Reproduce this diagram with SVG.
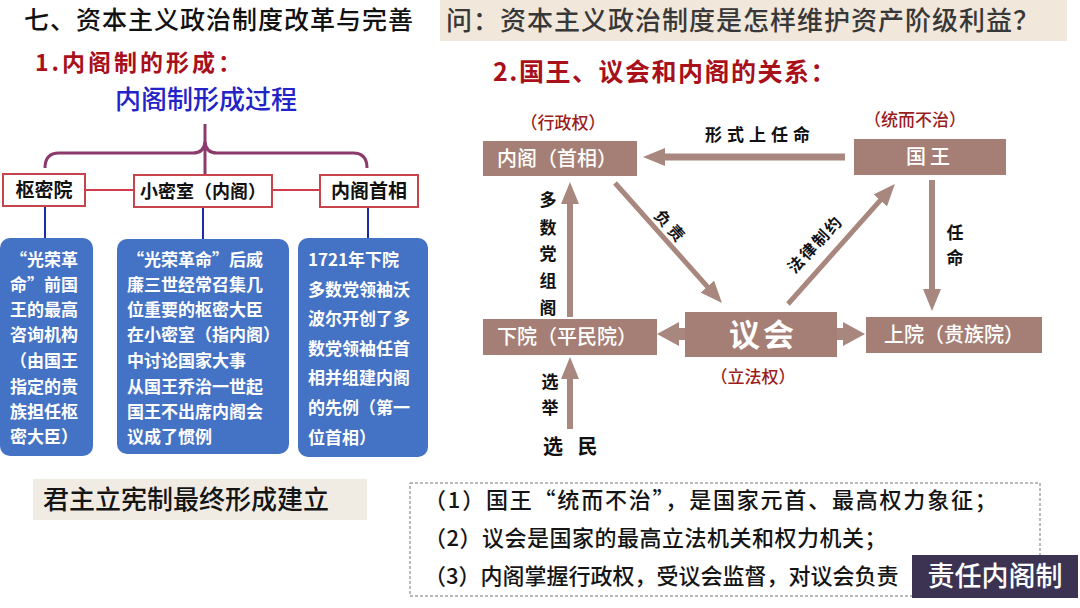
<svg xmlns="http://www.w3.org/2000/svg" width="1080" height="608" viewBox="0 0 1080 608">
<style>
text{font-family:"Noto Sans CJK SC","Noto Sans",sans-serif}
.h{font-size:25px;font-weight:500;fill:#111}
.red{fill:#a8101a;font-weight:700}
.tb{fill:#fff;stroke:#c8444c;stroke-width:2}
.tl{font-size:19px;font-weight:700;fill:#111;text-anchor:middle}
.bb{fill:#4472c4}
.bt{font-size:17px;font-weight:700;fill:#fff}
.br{fill:#a57f75}
.bl{font-size:20px;font-weight:500;fill:#fff;text-anchor:middle}
.pw{font-size:17px;fill:#9b1c1c;font-weight:500;text-anchor:middle}
.lb{font-size:17px;font-weight:700;fill:#111;text-anchor:middle}
.ar{stroke:#a8877e;fill:none}
.nt{font-size:22px;font-weight:500;fill:#151515}
</style>
<defs>
<marker id="ah" markerUnits="userSpaceOnUse" markerWidth="22" markerHeight="18" viewBox="0 0 22 18" refX="2" refY="9" orient="auto"><path d="M0,0 L22,9 L0,18 z" fill="#a8877e"/></marker>
<marker id="ahw" markerUnits="userSpaceOnUse" markerWidth="22" markerHeight="24" viewBox="0 0 22 24" refX="2" refY="12" orient="auto"><path d="M0,0 L22,12 L0,24 z" fill="#a8877e"/></marker>
</defs>
<rect width="1080" height="608" fill="#fff"/>

<g id="titles">
<text class="h" x="24" y="29" style="letter-spacing:1px">七、资本主义政治制度改革与完善</text>
<rect x="440" y="0" width="627" height="41" fill="#f1e7da"/>
<text x="446" y="30" style="font-size:26px;font-weight:500;fill:#383838;letter-spacing:1px">问：资本主义政治制度是怎样维护资产阶级利益？</text>
<text class="red" x="35" y="71" style="font-size:23px;letter-spacing:3px">1.内阁制的形成：</text>
<text x="115" y="109" style="font-size:26px;font-weight:500;fill:#2323c8">内阁制形成过程</text>
<text class="red" x="493" y="81" style="font-size:25px;letter-spacing:1.5px">2.国王、议会和内阁的关系：</text>
</g>

<g id="tree-connectors" fill="none">
<path d="M205,124 L205,175" stroke="#8c3a6c" stroke-width="3"/>
<path d="M45,168 Q45,153 59,153 L193,153 Q204,153 205,142 Q206,153 217,153 L353,153 Q367,153 367,168" stroke="#8c3a6c" stroke-width="3"/>
<path d="M85,190 H134 M272,190 H320" stroke="#d03c4c" stroke-width="2"/>
<path d="M45,206 V238 M203,207 V239 M368,207 V238" stroke="#1a2aa8" stroke-width="2"/>
</g>

<g id="n-shumiyuan"><rect class="tb" x="3" y="174" width="82" height="32"/><text class="tl" x="44" y="197">枢密院</text></g>
<g id="n-xiaomishi"><rect class="tb" x="134" y="175" width="138" height="32"/><text class="tl" x="203" y="198" style="font-size:18px">小密室（内阁）</text></g>
<g id="n-neigeshouxiang"><rect class="tb" x="320" y="175" width="98" height="32"/><text class="tl" x="369" y="198">内阁首相</text></g>

<g id="d-shumiyuan"><rect class="bb" x="0" y="238" width="93" height="218" rx="10"/>
<text class="bt"><tspan x="10" y="266">“光荣革</tspan><tspan x="10" y="291">命”前国</tspan><tspan x="10" y="316">王的最高</tspan><tspan x="10" y="341">咨询机构</tspan><tspan x="10" y="367">（由国王</tspan><tspan x="10" y="393">指定的贵</tspan><tspan x="10" y="418">族担任枢</tspan><tspan x="10" y="443">密大臣）</tspan></text></g>
<g id="d-xiaomishi"><rect class="bb" x="117" y="239" width="172" height="215" rx="10"/>
<text class="bt"><tspan x="127" y="266">“光荣革命”后威</tspan><tspan x="127" y="291">廉三世经常召集几</tspan><tspan x="127" y="316">位重要的枢密大臣</tspan><tspan x="127" y="341">在小密室（指内阁）</tspan><tspan x="127" y="367">中讨论国家大事</tspan><tspan x="127" y="393">从国王乔治一世起</tspan><tspan x="127" y="418">国王不出席内阁会</tspan><tspan x="127" y="443">议成了惯例</tspan></text></g>
<g id="d-shouxiang"><rect class="bb" x="298" y="238" width="130" height="219" rx="10"/>
<text class="bt"><tspan x="308" y="266">1721年下院</tspan><tspan x="308" y="296">多数党领袖沃</tspan><tspan x="308" y="325">波尔开创了多</tspan><tspan x="308" y="355">数党领袖任首</tspan><tspan x="308" y="384">相并组建内阁</tspan><tspan x="308" y="414">的先例（第一</tspan><tspan x="308" y="444">位首相）</tspan></text></g>

<g id="n-junzhu"><rect x="33" y="479" width="334" height="41" fill="#f0ece4"/><text x="43" y="509" style="font-size:26px;font-weight:500;fill:#151515">君主立宪制最终形成建立</text></g>

<g id="connectors" class="ar">
<line x1="845" y1="157" x2="663" y2="157" stroke-width="7" marker-end="url(#ah)"/>
<line x1="570" y1="317" x2="570" y2="202" stroke-width="6" marker-end="url(#ah)"/>
<line x1="615" y1="183" x2="708.7" y2="288.1" stroke-width="5" marker-end="url(#ah)"/>
<line x1="788" y1="304" x2="881.6" y2="198.9" stroke-width="5" marker-end="url(#ah)"/>
<line x1="932" y1="180" x2="932" y2="291" stroke-width="6" marker-end="url(#ah)"/>
<line x1="685" y1="334" x2="677" y2="334" stroke-width="12" marker-end="url(#ahw)"/>
<line x1="837" y1="334" x2="845" y2="334" stroke-width="12" marker-end="url(#ahw)"/>
<line x1="570" y1="429" x2="570" y2="377" stroke-width="6" marker-end="url(#ah)"/>
</g>

<g id="n-neige"><rect class="br" x="483" y="141" width="154" height="35"/><text class="bl" x="557" y="166">内阁（首相）</text><text class="pw" x="563" y="129">（行政权）</text></g>
<g id="n-guowang"><rect class="br" x="854" y="139" width="152" height="36"/><text class="bl" x="930" y="164" style="letter-spacing:4px">国王</text><text class="pw" x="915" y="126">（统而不治）</text></g>
<g id="n-xiayuan"><rect class="br" x="483" y="319" width="174" height="36"/><text class="bl" x="567" y="344">下院（平民院）</text></g>
<g id="n-yihui"><rect class="br" x="685" y="312" width="152" height="45"/><text class="bl" x="763" y="346" style="font-size:31px;font-weight:700;letter-spacing:3px">议会</text><text class="pw" x="753" y="383">（立法权）</text></g>
<g id="n-shangyuan"><rect class="br" x="866" y="317" width="176" height="36"/><text class="bl" x="954" y="342">上院（贵族院）</text></g>
<g id="n-xuanmin"><text x="543" y="454" style="font-size:20px;font-weight:700;fill:#111;word-spacing:10px">选 民</text></g>

<g id="labels">
<text class="lb" x="760" y="141" style="letter-spacing:5px">形式上任命</text>
<text class="lb"><tspan x="548" y="206">多</tspan><tspan x="548" y="234">数</tspan><tspan x="548" y="260">党</tspan><tspan x="548" y="287">组</tspan><tspan x="548" y="314">阁</tspan></text>
<text class="lb"><tspan x="550" y="388">选</tspan><tspan x="550" y="414">举</tspan></text>
<text class="lb"><tspan x="955" y="239">任</tspan><tspan x="955" y="264">命</tspan></text>
<text class="lb" transform="translate(671,227) rotate(48)" y="6" style="letter-spacing:4px;font-size:16px">负责</text>
<text class="lb" transform="translate(815,244) rotate(-47)" y="6" style="letter-spacing:2px;font-size:16px">法律制约</text>
</g>

<g id="notes">
<rect x="410" y="483" width="630" height="113" fill="none" stroke="#777" stroke-width="1" stroke-dasharray="3,2"/>
<text class="nt" x="424" y="508" style="letter-spacing:1.8px">（1）国王“统而不治”，是国家元首、最高权力象征；</text>
<text class="nt" x="424" y="546" style="letter-spacing:0.5px">（2）议会是国家的最高立法机关和权力机关；</text>
<text class="nt" x="424" y="584">（3）内阁掌握行政权，受议会监督，对议会负责</text>
</g>
<g id="n-zeren"><rect x="912" y="555" width="166" height="43" fill="#3c3352"/><text x="995" y="586" style="font-size:27px;font-weight:500;fill:#fff;text-anchor:middle">责任内阁制</text></g>
</svg>
